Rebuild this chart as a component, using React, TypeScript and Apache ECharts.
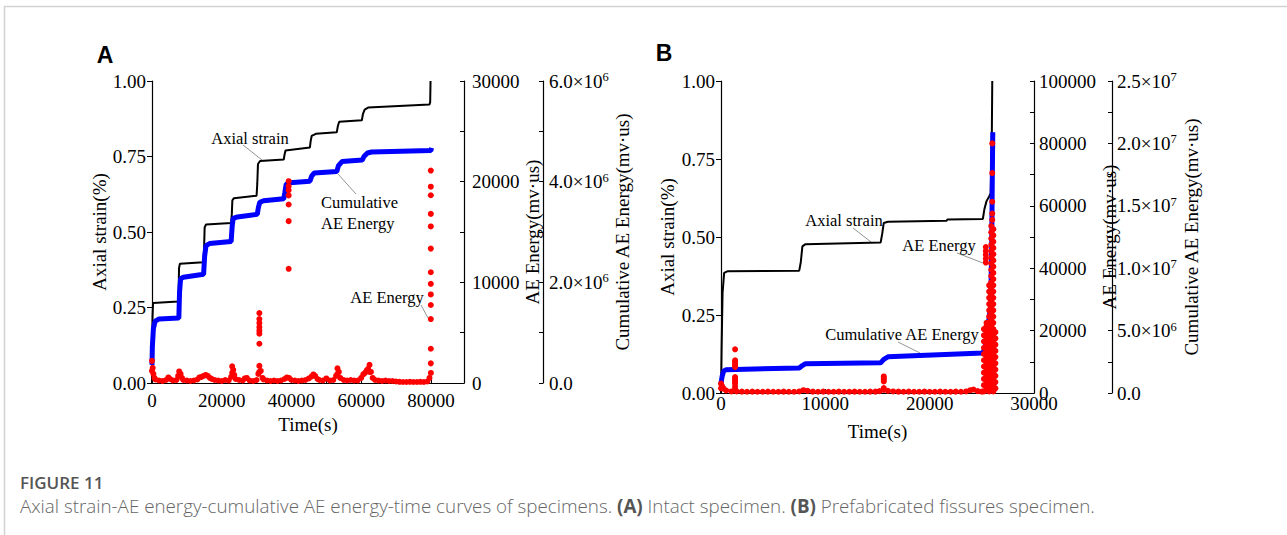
import React, { useEffect, useRef } from "react";
import * as echarts from "echarts";

// ---------- Panel A (intact specimen) ----------
const xTicksA = [0, 20000, 40000, 60000, 80000];
const strainA: [number, number][] = [
  [0, 0], [50, 0.12], [150, 0.22], [300, 0.265], [7500, 0.27], [7650, 0.3], [7750, 0.38], [8000, 0.395],
  [14800, 0.4], [14950, 0.45], [15100, 0.515], [15500, 0.525], [22700, 0.53], [22900, 0.56], [23050, 0.605],
  [23500, 0.612], [30000, 0.62], [30200, 0.66], [30400, 0.725], [31000, 0.735], [37800, 0.74], [38000, 0.755],
  [38300, 0.77], [45300, 0.78], [45500, 0.8], [45800, 0.818], [47000, 0.825], [53000, 0.83], [53300, 0.85],
  [53700, 0.865], [60200, 0.87], [60500, 0.89], [61000, 0.905], [62000, 0.912], [79600, 0.922], [79800, 0.93],
  [79900, 1.0],
];
// cumulative AE energy, in units of 1e6 mv·us
const cumA: [number, number][] = [
  [0, 0.36], [100, 0.72], [400, 1.08], [900, 1.23], [2000, 1.27], [7700, 1.29], [7900, 1.8], [8200, 2.07],
  [9000, 2.1], [14800, 2.16], [15100, 2.52], [15500, 2.73], [16500, 2.77], [22700, 2.81], [23000, 3.12],
  [23300, 3.27], [24500, 3.3], [30200, 3.35], [30500, 3.48], [30900, 3.59], [32000, 3.62], [37800, 3.66],
  [38100, 3.78], [38300, 3.87], [38500, 3.95], [39500, 3.98], [45300, 4.01], [45800, 4.11], [46500, 4.17],
  [53000, 4.2], [53500, 4.32], [54500, 4.4], [60300, 4.43], [60800, 4.5], [61800, 4.57], [63000, 4.59],
  [80000, 4.62], [80200, 4.67],
];
// AE energy (mv·us): baseline hits
const aeA_base: [number, number][] = [
  [0, 2200], [0, 1200], [200, 1500], [400, 900], [700, 500], [1000, 350], [2000, 250], [3000, 200], [4000, 300],
  [4700, 550], [5200, 400], [6000, 250], [7000, 300], [7500, 700], [7800, 1150], [7800, 700], [8200, 900],
  [8600, 500], [9000, 300], [10000, 250], [11000, 200], [12000, 250], [13000, 350], [13600, 550], [14200, 600],
  [14800, 700], [15400, 800], [16000, 700], [16600, 500], [17200, 400], [18000, 300], [19000, 250], [20000, 200],
  [21000, 300], [22000, 250], [22700, 600], [23000, 1650], [23000, 1000], [23300, 1300], [23600, 800],
  [24000, 400], [25000, 300], [26000, 250], [26600, 450], [27200, 500], [28000, 250], [29000, 200], [30000, 300],
  [30500, 900], [30800, 1700], [30800, 1100], [31200, 1200], [31700, 500], [32000, 350], [33000, 250],
  [34000, 200], [35000, 250], [36000, 200], [37000, 250], [38000, 400], [38700, 550], [39300, 500], [40000, 300],
  [41000, 250], [42000, 200], [43000, 250], [44000, 300], [45000, 450], [45800, 650], [46300, 850], [46800, 700],
  [47500, 400], [48000, 300], [49000, 250], [50000, 450], [51000, 250], [52000, 300], [52800, 700], [53200, 1450],
  [53200, 900], [53600, 1100], [54000, 500], [55000, 300], [56000, 250], [57000, 300], [58000, 250], [59000, 250],
  [60000, 500], [60600, 850], [61100, 1000], [61600, 1250], [62000, 1400], [62400, 1800], [62400, 1100],
  [62800, 1100], [63300, 500], [64000, 300], [65000, 250], [66000, 200], [67000, 250], [68000, 200], [69000, 200],
  [70000, 150], [71000, 120], [72000, 100], [73000, 100], [74000, 120], [75000, 100], [76000, 100], [77000, 120],
  [78000, 100], [79000, 150], [79600, 500], [80000, 1000],
];
// AE energy bursts (time, list of energies)
const aeA_burst1_t = 30800;
const aeA_burst1 = [6950, 6350, 5950, 5550, 5200, 4900, 3900];
const aeA_burst2_t = 39200;
const aeA_burst2 = [20050, 19550, 19150, 18630, 17730, 16080, 11340];
const aeA_burst3_t = 79980;
const aeA_burst3 = [21100, 19500, 18650, 16800, 15550, 13350, 11000, 9850, 8800, 7750, 6350, 3400, 1950];

// ---------- Panel B (prefabricated fissures specimen) ----------
const xTicksB = [0, 10000, 20000, 30000];
const strainB: [number, number][] = [
  [0, 0], [60, 0.15], [150, 0.32], [300, 0.385], [600, 0.39], [7500, 0.392], [7650, 0.42], [7800, 0.47],
  [8100, 0.477], [15300, 0.482], [15450, 0.51], [15600, 0.545], [16000, 0.549], [21600, 0.552], [21700, 0.556],
  [25100, 0.558], [25250, 0.59], [25450, 0.615], [25700, 0.63], [25850, 0.64], [25950, 0.8], [26000, 1.0],
];
// cumulative AE energy, in units of 1e6 mv·us
const cumB: [number, number][] = [
  [0, 0.75], [100, 1.3], [250, 1.75], [500, 1.87], [7500, 2.0], [7800, 2.2], [8100, 2.35], [15300, 2.42],
  [15600, 2.7], [16000, 2.9], [25100, 3.2], [25300, 3.6], [25500, 4.8], [25700, 6.0], [25850, 7.0],
  [25950, 12.0], [26000, 17.0], [26050, 20.9],
];
const aeB_base: [number, number][] = [
  [0, 3000], [0, 1500], [100, 2200], [250, 1400], [500, 800], [1000, 500], [1500, 500], [2000, 450], [2500, 400],
  [3000, 450], [3500, 400], [4000, 400], [4500, 450], [5000, 400], [5500, 400], [6000, 450], [6500, 400],
  [7000, 400], [7500, 500], [7900, 900], [8300, 700], [8800, 450], [9300, 400], [9800, 450], [10300, 400],
  [10800, 400], [11300, 450], [11800, 400], [12300, 400], [12800, 450], [13300, 400], [13800, 400], [14300, 450],
  [14800, 450], [15200, 600], [16000, 700], [16500, 500], [17000, 450], [17500, 400], [18000, 450], [18500, 400],
  [19000, 400], [19500, 450], [20000, 400], [20500, 400], [21000, 450], [21500, 400], [22000, 400], [22500, 450],
  [23000, 400], [23500, 500], [23900, 900], [24200, 1100], [24600, 600], [25000, 450],
];
const aeB_burst1_t = 1350;
const aeB_burst1 = [14000, 10500, 10000, 9400, 8900, 8300, 5100, 4600, 4100, 3500, 3000, 2000, 1200];
const aeB_burst2_t = 15600;
const aeB_burst2 = [5300, 4800, 4300, 3700, 1600, 1000];
const aeB_burst3_t = 25380;
const aeB_burst3 = [46800, 45500, 44300, 43000, 41800];
// dense failure-stage column: [time, energy]
const aeB_failure: [number, number][] = [
  [25200, 500], [25200, 2500], [25200, 4500], [25200, 6500], [25200, 8500], [25200, 10500], [25200, 12500],
  [25200, 14500], [25200, 16500], [25200, 18500], [25200, 20500],
  [25450, 1500], [25450, 3500], [25450, 5500], [25450, 7500], [25450, 9500], [25450, 11500], [25450, 13500],
  [25450, 15500], [25450, 17500], [25450, 19500], [25450, 21500], [25450, 22500],
  [25700, 500], [25700, 2500], [25700, 4500], [25700, 6500], [25700, 8500], [25700, 10500], [25700, 12500],
  [25700, 14500], [25700, 16500], [25700, 18500], [25700, 20500], [25700, 22500], [25700, 24500], [25700, 26500],
  [25700, 28500], [25700, 30500], [25700, 32500], [25700, 34500],
  [25900, 1500], [25900, 3500], [25900, 5500], [25900, 7500], [25900, 9500], [25900, 11500], [25900, 13500],
  [25900, 15500], [25900, 17500], [25900, 19500], [25900, 21500], [25900, 23500], [25900, 25500], [25900, 27500],
  [25900, 29500], [25900, 31500], [25900, 33500], [25900, 35500], [25900, 37500], [25900, 39500], [25900, 41500],
  [25900, 43500], [25900, 45500], [25900, 47500], [25900, 49500], [25900, 51500], [25900, 53500],
  [26100, 500], [26100, 2500], [26100, 4500], [26100, 6500], [26100, 8500], [26100, 10500], [26100, 12500],
  [26100, 14500], [26100, 16500], [26100, 18500], [26100, 20500], [26100, 22500], [26100, 24500], [26100, 26500],
  [26100, 28500], [26100, 30500], [26100, 32500], [26100, 34500], [26100, 36500], [26100, 38500], [26100, 40500],
  [26100, 42500], [26100, 44500], [26100, 46500], [26100, 48500], [26100, 50500], [26100, 52500],
  [26300, 1500], [26300, 3500], [26300, 5500], [26300, 7500], [26300, 9500], [26300, 11500], [26300, 13500],
  [26300, 15500], [26300, 17500], [26300, 19500],
  [26000, 55500], [26000, 57500], [26000, 61300], [26000, 70500], [26000, 80000],
];

const SERIF = "'Liberation Serif', 'Times New Roman', serif";
const SANS = "'Liberation Sans', Arial, sans-serif";
const FS = 19;

const burst = (t: number, vals: number[]) => vals.map((v) => [t, v]);
const toMega = (arr: [number, number][]) => arr.map(([t, v]) => [t, v * 1e6]);

function cumLabel(v: number, exp6Max: number) {
  if (v === 0) return "0.0";
  if (v < exp6Max) return `{m|${(v / 1e6).toFixed(1)}×10}{e|6}`;
  return `{m|${(v / 1e7).toFixed(1)}×10}{e|7}`;
}
const richSup = {
  m: { fontFamily: SERIF, fontSize: FS, color: "#000", lineHeight: 21 },
  e: { fontFamily: SERIF, fontSize: 12.5, color: "#000", lineHeight: 12, verticalAlign: "top" },
};

export default function App() {
  const ref = useRef<HTMLDivElement>(null);
  useEffect(() => {
    if (!ref.current) return;
    const chart = echarts.init(ref.current, null, { renderer: "svg" });
    const axisLine = { show: true, onZero: false, lineStyle: { color: "#000", width: 1.2 } };
    const label = { fontFamily: SERIF, fontSize: FS, color: "#000" };
    const nameStyle = { fontFamily: SERIF, fontSize: FS, color: "#000" };
    const annText = (x: number, y: number, text: string, align = "center") => ({
      type: "text", x, y,
      style: { text, fontFamily: SERIF, fontSize: 16.5, fill: "#000", align, verticalAlign: "middle" },
    });
    const lead = (x1: number, y1: number, x2: number, y2: number) => ({
      type: "line", shape: { x1, y1, x2, y2 }, style: { stroke: "#777", lineWidth: 0.8 },
    });

    chart.setOption({
      animation: false,
      grid: [
        { left: 152, top: 81, width: 312, height: 302 },
        { left: 721, top: 81, width: 313, height: 312 },
      ],
      xAxis: [
        {
          gridIndex: 0, type: "value", min: 0, max: 89500, interval: 10000,
          axisLine, axisTick: { inside: true, length: 4, lineStyle: { color: "#000" } },
          axisLabel: { ...label, margin: 8, formatter: (v: number) => (xTicksA.includes(v) ? String(v) : "") },
          splitLine: { show: false },
          name: "Time(s)", nameLocation: "middle", nameGap: 30, nameTextStyle: nameStyle,
        },
        {
          gridIndex: 1, type: "value", min: 0, max: 30000, interval: 5000,
          axisLine, axisTick: { inside: true, length: 4, lineStyle: { color: "#000" } },
          axisLabel: { ...label, margin: 1, formatter: (v: number) => (xTicksB.includes(v) ? String(v) : "") },
          splitLine: { show: false },
          name: "Time(s)", nameLocation: "middle", nameGap: 29, nameTextStyle: nameStyle,
        },
      ],
      yAxis: [
        {
          gridIndex: 0, type: "value", min: 0, max: 1, interval: 0.25, position: "left",
          axisLine, axisTick: { show: true, length: 5, lineStyle: { color: "#000" } },
          axisLabel: { ...label, margin: 6, formatter: (v: number) => v.toFixed(2) },
          splitLine: { show: false },
          name: "Axial strain(%)", nameLocation: "middle", nameRotate: 90, nameGap: 43, nameTextStyle: nameStyle,
        },
        {
          gridIndex: 0, type: "value", min: 0, max: 30000, interval: 5000, position: "right",
          axisLine, axisTick: { show: true, inside: true, length: 4, lineStyle: { color: "#000" } },
          axisLabel: { ...label, margin: 8, formatter: (v: number) => (v % 10000 === 0 ? String(v) : "") },
          splitLine: { show: false },
          name: "AE Energy(mv·us)", nameLocation: "middle", nameRotate: 90, nameGap: 56, nameTextStyle: nameStyle,
        },
        {
          gridIndex: 0, type: "value", min: 0, max: 6e6, interval: 1e6, position: "right", offset: 79,
          axisLine, axisTick: { show: true, inside: true, length: 4, lineStyle: { color: "#000" } },
          axisLabel: {
            ...label, margin: 6, rich: richSup,
            formatter: (v: number) => (Math.round(v / 1e6) % 2 === 0 ? cumLabel(v, 1e7) : ""),
          },
          splitLine: { show: false },
          name: "Cumulative AE Energy(mv·us)", nameLocation: "middle", nameRotate: 90, nameGap: 70,
          nameTextStyle: nameStyle,
        },
        {
          gridIndex: 1, type: "value", min: 0, max: 1, interval: 0.25, position: "left",
          axisLine, axisTick: { show: true, length: 5, lineStyle: { color: "#000" } },
          axisLabel: { ...label, margin: 6, formatter: (v: number) => v.toFixed(2) },
          splitLine: { show: false },
          name: "Axial strain(%)", nameLocation: "middle", nameRotate: 90, nameGap: 44, nameTextStyle: nameStyle,
        },
        {
          gridIndex: 1, type: "value", min: 0, max: 100000, interval: 10000, position: "right",
          axisLine, axisTick: { show: true, inside: true, length: 4, lineStyle: { color: "#000" } },
          axisLabel: { ...label, margin: 5, formatter: (v: number) => (v % 20000 === 0 ? String(v) : "") },
          splitLine: { show: false },
          name: "AE Energy(mv·us)", nameLocation: "middle", nameRotate: 90, nameGap: 53, nameTextStyle: nameStyle,
        },
        {
          gridIndex: 1, type: "value", min: 0, max: 2.5e7, interval: 2.5e6, position: "right", offset: 78,
          axisLine, axisTick: { show: true, inside: true, length: 4, lineStyle: { color: "#000" } },
          axisLabel: {
            ...label, margin: 5, rich: richSup,
            formatter: (v: number) => (Math.round(v / 2.5e6) % 2 === 0 ? cumLabel(v, 1e7) : ""),
          },
          splitLine: { show: false },
          name: "Cumulative AE Energy(mv·us)", nameLocation: "middle", nameRotate: 90, nameGap: 70,
          nameTextStyle: nameStyle,
        },
      ],
      series: [
        {
          name: "Axial strain A", type: "line", xAxisIndex: 0, yAxisIndex: 0, data: strainA, showSymbol: false,
          lineStyle: { color: "#000", width: 2 }, z: 2,
        },
        {
          name: "Cumulative AE Energy A", type: "line", xAxisIndex: 0, yAxisIndex: 2, data: toMega(cumA),
          showSymbol: false, lineStyle: { color: "#0000ff", width: 5 }, z: 3,
        },
        {
          name: "AE Energy A", type: "scatter", xAxisIndex: 0, yAxisIndex: 1, symbolSize: 6,
          itemStyle: { color: "#ff0000", opacity: 1 }, z: 4,
          data: [
            ...aeA_base, ...burst(aeA_burst1_t, aeA_burst1), ...burst(aeA_burst2_t, aeA_burst2),
            ...burst(aeA_burst3_t, aeA_burst3),
          ],
        },
        {
          name: "Axial strain B", type: "line", xAxisIndex: 1, yAxisIndex: 3, data: strainB, showSymbol: false,
          lineStyle: { color: "#000", width: 2 }, z: 2,
        },
        {
          name: "Cumulative AE Energy B", type: "line", xAxisIndex: 1, yAxisIndex: 5, data: toMega(cumB),
          showSymbol: false, lineStyle: { color: "#0000ff", width: 5 }, z: 3,
        },
        {
          name: "AE Energy B", type: "scatter", xAxisIndex: 1, yAxisIndex: 4, symbolSize: 6,
          itemStyle: { color: "#ff0000", opacity: 1 }, z: 4,
          data: [
            ...aeB_base, ...burst(aeB_burst1_t, aeB_burst1), ...burst(aeB_burst2_t, aeB_burst2),
            ...burst(aeB_burst3_t, aeB_burst3), ...aeB_failure,
          ],
        },
      ],
      graphic: [
        { type: "line", shape: { x1: 4, y1: 6.5, x2: 1287, y2: 6.5 }, style: { stroke: "#d2d2d2", lineWidth: 1.5 } },
        { type: "line", shape: { x1: 4.5, y1: 6, x2: 4.5, y2: 535 }, style: { stroke: "#d2d2d2", lineWidth: 1.5 } },
        { type: "text", x: 105, y: 55, style: { text: "A", fontFamily: SANS, fontWeight: "bold", fontSize: 23, fill: "#000", align: "center", verticalAlign: "middle" } },
        { type: "text", x: 664, y: 53, style: { text: "B", fontFamily: SANS, fontWeight: "bold", fontSize: 23, fill: "#000", align: "center", verticalAlign: "middle" } },
        annText(250, 138, "Axial strain"),
        lead(243, 145, 262, 160),
        annText(321, 202, "Cumulative", "left"),
        annText(321, 223, "AE Energy", "left"),
        lead(338, 174, 356, 194),
        annText(387, 297, "AE Energy"),
        lead(421, 305, 428, 318),
        annText(844, 220, "Axial strain"),
        lead(853, 228, 871, 242),
        annText(939, 245, "AE Energy"),
        lead(957, 253, 983, 263),
        annText(902, 334, "Cumulative AE Energy"),
        lead(898, 342, 920, 353),
        {
          type: "text", x: 20, y: 482,
          style: { text: "FIGURE 11", fontFamily: "'Open Sans', sans-serif", fontWeight: 600, fontSize: 17, fill: "#555", verticalAlign: "middle" },
        },
        {
          type: "text", x: 20, y: 506,
          style: {
            text: "{n|Axial strain-AE energy-cumulative AE energy-time curves of specimens. }{b|(A)}{n| Intact specimen. }{b|(B)}{n| Prefabricated fissures specimen.}",
            verticalAlign: "middle",
            rich: {
              n: { fontFamily: "'Open Sans', sans-serif", fontSize: 18.8, fill: "#666", fontWeight: 300 },
              b: { fontFamily: "'Open Sans', sans-serif", fontSize: 18.8, fill: "#555", fontWeight: "bold" },
            },
          },
        },
      ],
    });
    return () => chart.dispose();
  }, []);
  return <div ref={ref} style={{ position: "fixed", left: 0, top: 0, width: 1287, height: 535, background: "#fff" }} />;
}
